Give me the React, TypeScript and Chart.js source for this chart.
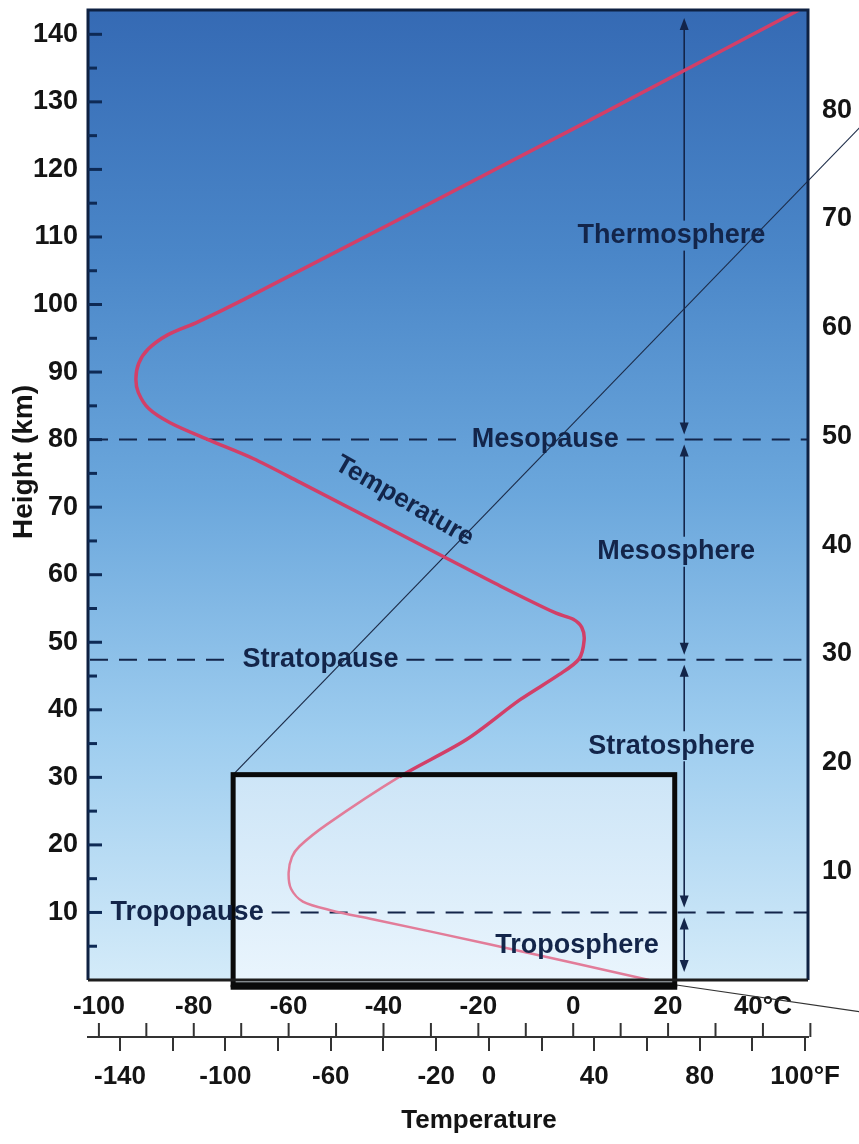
import React, { useEffect, useRef } from 'react';
import { Chart, registerables } from 'chart.js';

Chart.register(...registerables);

const FONT = '"Liberation Sans", Arial, Helvetica, sans-serif';
const NAVY = '#13254a';
const RED = '#d23f68';
const RED_LIGHT = '#e27c99';
const TEXT = '#141414';

// axis ranges
const C_MIN = -102.3;
const C_MAX = 49.5;
const KM_MAX = 143.6;
const KM_PER_MILE = 1.609344;

// temperature profile: temperature (°C) vs height (km)
const tempC = [16, -17.7, -42.3, -51, -57, -59.5, -60, -59.3, -57.7, -52, -36.6, -22.5, -11.2, -3, 1.2, 2.3, 1.8, 0, -3.6, -15.3, -27.4, -57.7, -67.5, -77, -85, -89.5, -91.7, -92.2, -91.6, -89.6, -85.5, -79.2, -69.3, 0, 47.6];
const heightKm = [0, 5.3, 9.0, 10.3, 11.6, 13.5, 15.9, 18.2, 19.8, 23, 30.1, 35.6, 41.5, 45.2, 47.5, 50.3, 52.2, 53.4, 54.3, 58.3, 62.7, 73.7, 77.2, 80, 82.5, 84.6, 87, 89, 91.3, 93.4, 95.5, 97.4, 100.8, 126, 143.6];

// inset box (°C, km) and leader lines
const boxC = [-71.7, 21.4];
const boxKm = [-0.7, 30.4];
const leaderUpperC = [-71.7, 60.4];
const leaderUpperKm = [30.4, 126.2];
const leaderLowerC = [21.4, 60.4];
const leaderLowerKm = [-0.7, -4.7];

// ticks
const cTickValues = [-100, -80, -60, -40, -20, 0, 20, 40];
const cTickLabels = ['-100', '-80', '-60', '-40', '-20', '0', '20', '40°C'];
const cMarkValues = [-100, -90, -80, -70, -60, -50, -40, -30, -20, -10, 0, 10, 20, 30, 40, 50];
const fTickValues = [-140, -120, -100, -80, -60, -40, -20, 0, 20, 40, 60, 80, 100, 120];
const fTickLabels = ['-140', '', '-100', '', '-60', '', '-20', '0', '', '40', '', '80', '', '100°F'];
const kmTickValues = [10, 20, 30, 40, 50, 60, 70, 80, 90, 100, 110, 120, 130, 140];
const kmMinorValues = [5, 15, 25, 35, 45, 55, 65, 75, 85, 95, 105, 115, 125, 135];
const mileTickValues = [10, 20, 30, 40, 50, 60, 70, 80];

// layers and boundaries
const layerNames = ['Thermosphere', 'Mesosphere', 'Stratosphere', 'Troposphere'];
const layerLabelC = [20.7, 21.7, 20.7, 0.8];
const layerLabelKm = [110.2, 63.4, 34.6, 5.1];
const layerBoundsKm = [KM_MAX, 80, 47.4, 10, 0];
const arrowC = 23.4;
const pauseNames = ['Mesopause', 'Stratopause', 'Tropopause'];
const pauseKm = [80, 47.4, 10];
const pauseLabelC = [-5.9, -53.3, -81.4];
const curveLabel = 'Temperature';
const curveLabelC = -35.6;
const curveLabelKm = 70.9;
const curveLabelAngle = 30;

const inBox = (p: any) => p.y <= boxKm[1] && p.x >= boxC[0] && p.x <= boxC[1];

function arrowHead(ctx: CanvasRenderingContext2D, x: number, tip: number, dir: number) {
  ctx.beginPath();
  ctx.moveTo(x, tip);
  ctx.lineTo(x - 4.5, tip - dir * 12);
  ctx.lineTo(x + 4.5, tip - dir * 12);
  ctx.closePath();
  ctx.fill();
}

function vLine(ctx: CanvasRenderingContext2D, x: number, y1: number, y2: number) {
  if (y2 - y1 < 1) return;
  ctx.beginPath();
  ctx.moveTo(x, y1);
  ctx.lineTo(x, y2);
  ctx.stroke();
}

const atmospherePlugin = {
  id: 'atmosphere',
  beforeDatasetsDraw(chart: any) {
    const { ctx, chartArea: a, scales } = chart;
    const px = (c: number) => scales.x.getPixelForValue(c);
    const py = (k: number) => scales.y.getPixelForValue(k);
    ctx.save();
    const g = ctx.createLinearGradient(0, a.top, 0, a.bottom);
    g.addColorStop(0, '#356ab4');
    g.addColorStop(0.25, '#4a86c8');
    g.addColorStop(0.5, '#6ba7dc');
    g.addColorStop(0.75, '#9ecdef');
    g.addColorStop(1, '#d4ebf9');
    ctx.fillStyle = g;
    ctx.fillRect(a.left, a.top, a.right - a.left, a.bottom - a.top);

    const bx1 = px(boxC[0]), bx2 = px(boxC[1]);
    const by1 = py(boxKm[1]), by2 = py(boxKm[0]);
    const g2 = ctx.createLinearGradient(0, by1, 0, by2);
    g2.addColorStop(0, '#cde5f7');
    g2.addColorStop(1, '#eaf5fd');
    ctx.fillStyle = g2;
    ctx.fillRect(bx1, by1, bx2 - bx1, by2 - by1);

    ctx.font = `bold 27px ${FONT}`;
    // dashed boundaries
    ctx.strokeStyle = NAVY;
    ctx.lineWidth = 2;
    ctx.setLineDash([18, 11]);
    pauseKm.forEach((k, i) => {
      const y = py(k);
      const lx = px(pauseLabelC[i]);
      const w = ctx.measureText(pauseNames[i]).width;
      const segs = [[a.left + 2, lx - w / 2 - 8], [lx + w / 2 + 8, a.right]];
      segs.forEach(([s, e]) => {
        if (e - s > 20) {
          ctx.beginPath();
          ctx.moveTo(s, y);
          ctx.lineTo(e, y);
          ctx.stroke();
        }
      });
    });
    ctx.setLineDash([]);

    // layer arrows
    const ax = px(arrowC);
    ctx.lineWidth = 1.6;
    ctx.fillStyle = NAVY;
    for (let i = 0; i < layerBoundsKm.length - 1; i++) {
      const yTop = py(layerBoundsKm[i]) + (i === 0 ? 8 : 5);
      const yBot = py(layerBoundsKm[i + 1]) - (i === layerBoundsKm.length - 2 ? 8 : 5);
      const lx = px(layerLabelC[i]);
      const ly = py(layerLabelKm[i]);
      const w = ctx.measureText(layerNames[i]).width;
      if (ax > lx - w / 2 - 4 && ax < lx + w / 2 + 4) {
        vLine(ctx, ax, yTop + 6, ly - 15);
        vLine(ctx, ax, ly + 15, yBot - 6);
      } else {
        vLine(ctx, ax, yTop + 6, yBot - 6);
      }
      arrowHead(ctx, ax, yTop, -1);
      arrowHead(ctx, ax, yBot, 1);
    }
    ctx.restore();
  },
  afterDatasetsDraw(chart: any) {
    const { ctx, chartArea: a, scales } = chart;
    const px = (c: number) => scales.x.getPixelForValue(c);
    const py = (k: number) => scales.y.getPixelForValue(k);
    ctx.save();
    // inset box outline
    const bx1 = px(boxC[0]), bx2 = px(boxC[1]);
    const by1 = py(boxKm[1]), by2 = py(boxKm[0]);
    ctx.strokeStyle = '#0a0a0a';
    ctx.lineWidth = 5;
    ctx.strokeRect(bx1, by1, bx2 - bx1, by2 - by1);
    ctx.fillStyle = '#0a0a0a';
    ctx.fillRect(bx1 - 2.5, by2, bx2 - bx1 + 5, 5);

    // frame
    ctx.strokeStyle = '#0e2142';
    ctx.lineWidth = 3;
    ctx.beginPath();
    ctx.moveTo(a.left, a.bottom);
    ctx.lineTo(a.left, a.top);
    ctx.lineTo(a.right, a.top);
    ctx.lineTo(a.right, a.bottom);
    ctx.stroke();
    ctx.strokeStyle = '#1d1d1d';
    ctx.beginPath();
    ctx.moveTo(a.left, a.bottom);
    ctx.lineTo(a.right, a.bottom);
    ctx.stroke();

    // labels
    ctx.font = `bold 27px ${FONT}`;
    ctx.fillStyle = NAVY;
    ctx.textAlign = 'center';
    ctx.textBaseline = 'middle';
    layerNames.forEach((n, i) => ctx.fillText(n, px(layerLabelC[i]), py(layerLabelKm[i])));
    pauseNames.forEach((n, i) => ctx.fillText(n, px(pauseLabelC[i]), py(pauseKm[i])));

    ctx.font = `bold 26px ${FONT}`;
    ctx.translate(px(curveLabelC), py(curveLabelKm));
    ctx.rotate((curveLabelAngle * Math.PI) / 180);
    ctx.fillText(curveLabel, 0, 0);
    ctx.restore();
  },
  afterDraw(chart: any) {
    const { ctx, chartArea: a, scales } = chart;
    ctx.save();
    // inner height tick marks
    ctx.strokeStyle = '#0e2a55';
    ctx.lineWidth = 3;
    kmTickValues.forEach((k) => {
      const y = scales.y.getPixelForValue(k);
      ctx.beginPath();
      ctx.moveTo(a.left, y);
      ctx.lineTo(a.left + 14, y);
      ctx.stroke();
    });
    kmMinorValues.forEach((k) => {
      const y = scales.y.getPixelForValue(k);
      ctx.beginPath();
      ctx.moveTo(a.left, y);
      ctx.lineTo(a.left + 9, y);
      ctx.stroke();
    });
    // Celsius tick marks above the temperature axis line
    const lineY = scales.xF.top;
    ctx.strokeStyle = '#333';
    ctx.lineWidth = 2;
    cMarkValues.forEach((c) => {
      const x = scales.x.getPixelForValue(c);
      ctx.beginPath();
      ctx.moveTo(x, lineY);
      ctx.lineTo(x, lineY - 14);
      ctx.stroke();
    });
    // axis titles
    ctx.fillStyle = TEXT;
    ctx.textAlign = 'center';
    ctx.textBaseline = 'middle';
    ctx.font = `bold 26px ${FONT}`;
    ctx.fillText('Temperature', 479, 1121);
    ctx.translate(24, 462);
    ctx.rotate(-Math.PI / 2);
    ctx.font = `bold 28px ${FONT}`;
    ctx.fillText('Height (km)', 0, 0);
    ctx.restore();
  },
};

const zeroPad = (s: any) => {
  s.paddingLeft = 0;
  s.paddingRight = 0;
  s.paddingTop = 0;
  s.paddingBottom = 0;
};

export default function App() {
  const ref = useRef<HTMLCanvasElement>(null);
  useEffect(() => {
    const canvas = ref.current;
    if (!canvas) return;
    const tickFont = { family: FONT, size: 26, weight: 'bold' as const };
    const chart = new Chart(canvas, {
      type: 'line',
      data: {
        datasets: [
          {
            label: 'Temperature',
            data: tempC.map((c, i) => ({ x: c, y: heightKm[i] })),
            borderColor: RED,
            borderWidth: 3.5,
            pointRadius: 0,
            tension: 0.3,
            xAxisID: 'x',
            yAxisID: 'y',
            segment: {
              borderColor: (c: any) => (inBox(c.p0.parsed) && inBox(c.p1.parsed) ? RED_LIGHT : RED),
              borderWidth: (c: any) => (inBox(c.p0.parsed) && inBox(c.p1.parsed) ? 2.5 : 3.5),
            },
          } as any,
          {
            label: 'leader upper',
            data: leaderUpperC.map((c, i) => ({ x: c, y: leaderUpperKm[i] })),
            borderColor: '#1c2b48',
            borderWidth: 1.2,
            pointRadius: 0,
            tension: 0,
            clip: false,
            xAxisID: 'x',
            yAxisID: 'y',
          } as any,
          {
            label: 'leader lower',
            data: leaderLowerC.map((c, i) => ({ x: c, y: leaderLowerKm[i] })),
            borderColor: '#333',
            borderWidth: 1.2,
            pointRadius: 0,
            tension: 0,
            clip: false,
            xAxisID: 'x',
            yAxisID: 'y',
          } as any,
        ],
      },
      options: {
        responsive: false,
        animation: false,
        events: [],
        layout: { padding: { top: 10, left: 0, right: 0, bottom: 0 } },
        plugins: { legend: { display: false }, tooltip: { enabled: false } },
        scales: {
          x: {
            type: 'linear',
            position: 'bottom',
            weight: 0,
            min: C_MIN,
            max: C_MAX,
            afterBuildTicks: (s: any) => {
              s.ticks = cTickValues.map((v) => ({ value: v }));
            },
            ticks: {
              callback: (v: any) => cTickLabels[cTickValues.indexOf(Number(v))] ?? '',
              font: tickFont,
              color: TEXT,
              padding: 11,
              autoSkip: false,
              maxRotation: 0,
            },
            grid: { display: false, drawTicks: false },
            border: { display: false },
            afterFit: (s: any) => {
              s.height = 57;
              zeroPad(s);
            },
          },
          xF: {
            type: 'linear',
            position: 'bottom',
            weight: 1,
            min: C_MIN * 1.8 + 32,
            max: C_MAX * 1.8 + 32,
            afterBuildTicks: (s: any) => {
              s.ticks = fTickValues.map((v) => ({ value: v }));
            },
            ticks: {
              callback: (v: any) => fTickLabels[fTickValues.indexOf(Number(v))] ?? '',
              font: tickFont,
              color: TEXT,
              padding: 10,
              autoSkip: false,
              maxRotation: 0,
            },
            grid: { display: true, drawOnChartArea: false, drawTicks: true, tickLength: 14, color: '#333', lineWidth: 2 },
            border: { display: true, color: '#333', width: 2 },
            afterFit: (s: any) => {
              s.height = 107;
              zeroPad(s);
            },
          },
          y: {
            type: 'linear',
            position: 'left',
            min: 0,
            max: KM_MAX,
            afterBuildTicks: (s: any) => {
              s.ticks = kmTickValues.map((v) => ({ value: v }));
            },
            ticks: {
              font: { family: FONT, size: 27, weight: 'bold' },
              color: TEXT,
              padding: 10,
              autoSkip: false,
            },
            grid: { display: false, drawTicks: false },
            border: { display: false },
            afterFit: (s: any) => {
              s.width = 88;
              zeroPad(s);
            },
          },
          y2: {
            type: 'linear',
            position: 'right',
            min: 0,
            max: KM_MAX / KM_PER_MILE,
            afterBuildTicks: (s: any) => {
              s.ticks = mileTickValues.map((v) => ({ value: v }));
            },
            ticks: {
              font: { family: FONT, size: 27, weight: 'bold' },
              color: TEXT,
              padding: 14,
              autoSkip: false,
            },
            grid: { display: false, drawTicks: false },
            border: { display: false },
            afterFit: (s: any) => {
              s.width = 51;
              zeroPad(s);
            },
          },
        },
      } as any,
      plugins: [atmospherePlugin],
    });
    return () => chart.destroy();
  }, []);
  return (
    <div style={{ position: 'fixed', left: 0, top: 0, width: 859, height: 1144, background: '#ffffff' }}>
      <canvas ref={ref} width={859} height={1144} style={{ display: 'block', width: 859, height: 1144 }} />
    </div>
  );
}
